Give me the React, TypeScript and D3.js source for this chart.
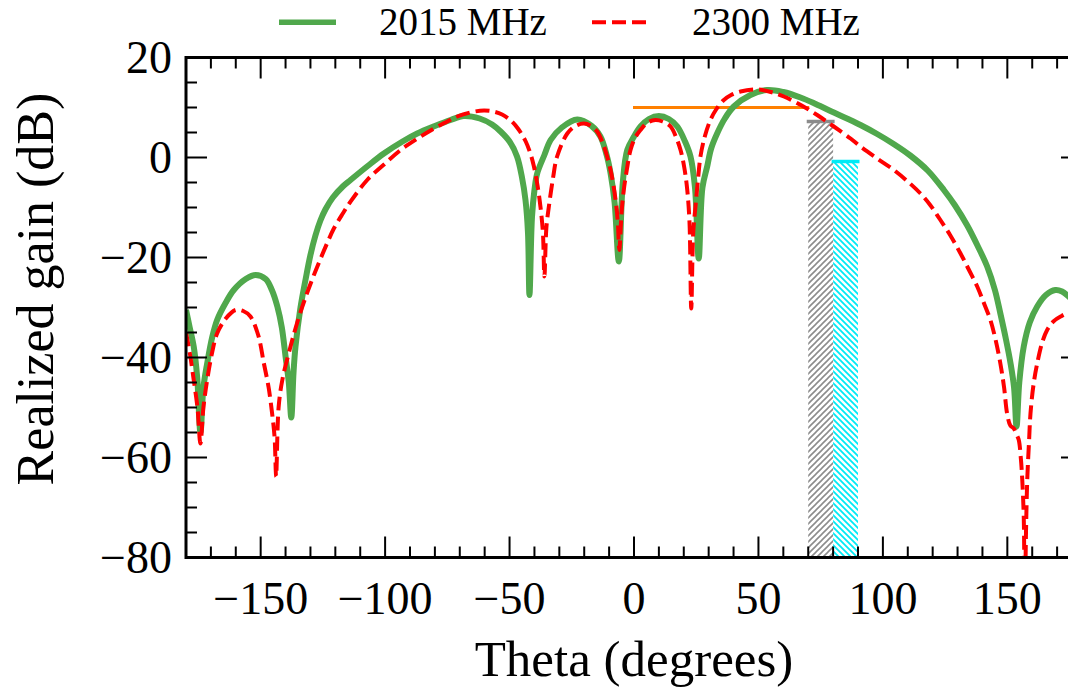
import React from "react";
import * as d3 from "d3";

const greenTheta = [-180,-178.5,-176.9,-175.5,-174.2,-173,-171.5,-169.5,-167.5,-164,-160.8,-156,-152,-148,-145.5,-143.3,-141.5,-140,-138.7,-137.7,-136.8,-136,-134,-132,-130,-128,-126,-124,-121,-117,-113.9,-107,-100.5,-93,-87.1,-80,-73.7,-68.4,-62,-57,-53.6,-50,-47,-45,-43.6,-42.6,-42,-41,-40,-38.9,-36,-33.5,-29,-22.8,-17,-13.5,-11,-9.4,-7.8,-6.1,-4.5,-2.7,0,2.6,6,10,14,17.4,20.5,22.7,24.5,26,27.5,29.4,31,33.4,36.5,40.1,46.8,53.5,60,66.9,73,80.3,86,91,97.7,104,111,118,124.5,129,133.9,138,141.9,145,147.2,149.5,151.3,152.7,153.7,154.8,156.6,159,162,165.5,169.3,172,174.6,177.5,180];
const greenGain = [-30.5,-34,-37.8,-44,-55,-46,-41.2,-36,-32.5,-29,-26.5,-24.3,-23.5,-24.3,-26.5,-29.8,-34,-39.8,-45,-52,-43,-37.8,-30,-24.5,-19.5,-15.6,-12.6,-10.4,-8,-5.8,-4.5,-1.7,0.8,3.2,4.8,6.3,7.5,8.3,7.8,6.6,5.2,3.2,0.2,-4,-8.5,-15,-27.5,-12,-6.5,-3.2,0.5,3.5,6,7.6,6.3,4.2,0.5,-3.2,-9,-20.8,-5,1.5,4.2,6.2,7.7,8.3,7.7,6.2,3.2,0.2,-6,-20.2,-6,-1.8,1.8,4.8,7.8,10.2,12.5,13.5,13.1,12,10.7,9,7.7,6.5,4.7,2.8,0.4,-2.6,-6.5,-9.6,-13.6,-17.6,-21.8,-26.5,-31.2,-36.5,-41.2,-46,-53.8,-45,-37.8,-33,-29.8,-27.5,-26.5,-26.8,-27.8,-29,-30.5];

const redTheta = [-180,-178.5,-176.9,-175.4,-174.2,-173,-171.5,-169.5,-167.5,-164,-160.1,-157,-154.1,-151,-148.7,-146.8,-145.4,-144.4,-143.8,-142.8,-141.3,-138,-135,-132,-129,-126,-123,-120.6,-117,-114,-107.2,-100,-93.8,-87,-80.4,-75,-71,-65,-60.3,-56.5,-53,-49.5,-46.5,-43.5,-41.5,-40.3,-38.8,-37.6,-36.6,-36,-35.2,-34.2,-32.5,-30.9,-26.8,-23.5,-20.2,-17.5,-14.8,-12.5,-10.8,-9,-7.4,-6.5,-5.9,-5,-4.1,-2.8,-1.4,0.5,2.6,5.5,8.6,11.5,14.7,16.8,18.7,20.2,21.4,22.3,23,23.8,24.7,25.7,26.7,28.5,30.7,33,36.1,39,42.8,49.5,55,60.2,67,73.6,80,87,91,97.7,104.4,110,115.1,119,123.1,127,131.2,134.5,137.9,140.5,143.2,145.3,147.2,148.7,149.9,151.2,152.6,153.8,154.6,155.4,156,156.6,157,157.5,158,158.7,159.3,160.5,162,164,166,168.5,171.4,174.6,177.5,180];
const redGain = [-35,-39,-44.5,-50,-57.2,-50,-44.5,-39,-35.2,-32.2,-30.5,-30.7,-31.8,-35.5,-41.2,-46,-51.2,-56,-63.8,-50,-44.5,-37.8,-32.5,-28,-24,-20.3,-16.8,-14.2,-11.2,-8.9,-4.5,-1.2,1.5,3.8,5.8,7.2,8.2,9.1,9.4,9.2,8.6,7.4,5.7,3.2,0.6,-1.6,-5.5,-9.8,-15,-23.8,-14,-9.8,-4,0.2,4.8,6.3,6.8,6.4,5.2,2.8,0.2,-3.5,-8.5,-13,-18.5,-11,-6.5,-2.2,1.5,4,5.5,7,7.5,7.2,6.2,4.2,1.5,-2,-6.5,-13,-30.2,-15,-9.8,-4.5,0.2,4.3,7.5,9.6,11.5,12.5,13.2,13.6,13.1,12.2,10.5,8.5,6.3,3.8,2.2,-0.2,-2.5,-4.8,-7.2,-9.5,-12.5,-15.5,-19.2,-22.4,-25.8,-29,-32.5,-36.5,-41.2,-46,-51.2,-53.6,-54.2,-55.5,-56.5,-60,-64.5,-72,-90,-75,-64.5,-57,-51.2,-45.5,-41.2,-37,-34.5,-32.8,-31.8,-31.2,-32.5,-35];

const seriesLabels = ["2015 MHz", "2300 MHz"];
const barStart = [70, 80];
const barEnd = [80, 90];
const barTop = [7.2, -0.8];
const refLineStart = 0;
const refLineEnd = 70;
const refLineGain = 10;

const xMajor = [-150, -100, -50, 0, 50, 100, 150];
const yMajor = [20, 0, -20, -40, -60, -80];

const FONT = "'Liberation Serif', 'Times New Roman', 'DejaVu Serif', serif";

const fmt = (v: number) => (v < 0 ? "\u2212" + Math.abs(v) : String(v));

export default function App() {
  const W = 1068, H = 689;
  const x = d3.scaleLinear().domain([-180, 180]).range([186, 1082]);
  const y = d3.scaleLinear().domain([-80, 20]).range([557.5, 57.5]);
  const [x0, x1] = x.range();
  const [yb, yt] = y.range();

  const line = d3.line<[number, number]>()
    .x((d) => x(d[0]))
    .y((d) => y(d[1]))
    .curve(d3.curveCatmullRom.alpha(0.5));

  const greenPath = line(greenTheta.map((t, i) => [t, greenGain[i]] as [number, number])) || "";
  const redPath = line(redTheta.map((t, i) => [t, redGain[i]] as [number, number])) || "";

  const xMinor = d3.range(-170, 180, 10).filter((v) => v % 50 !== 0);
  const yMinor = d3.range(-75, 20, 5).filter((v) => v % 20 !== 0);
  const MAJ = 21, MIN = 11;

  const green = "#50a84c";
  const red = "#ff0000";
  const barColors = ["#8c8c8c", "#00eaf5"];
  const barPatterns = ["hatchFwd", "hatchBack"];
  const dash = "14 6";

  return (
    <svg width={W} height={H} style={{ position: "absolute", left: 0, top: 0, background: "#fff" }}>
      <defs>
        <clipPath id="plotClip">
          <rect x={x0} y={yt} width={x1 - x0} height={yb - yt} />
        </clipPath>
        <pattern id="hatchFwd" patternUnits="userSpaceOnUse" width={6} height={6}>
          <path d="M-1,1 l2,-2 M0,6 l6,-6 M5,7 l2,-2" stroke={barColors[0]} strokeWidth={1.6} />
        </pattern>
        <pattern id="hatchBack" patternUnits="userSpaceOnUse" width={6} height={6}>
          <path d="M-1,5 l2,2 M0,0 l6,6 M5,-1 l2,2" stroke={barColors[1]} strokeWidth={1.8} />
        </pattern>
      </defs>

      <g clipPath="url(#plotClip)">
        {barStart.map((s, i) => (
          <rect key={"bar" + i} x={x(s)} y={y(barTop[i])} width={x(barEnd[i]) - x(s)} height={yb - y(barTop[i])} fill={`url(#${barPatterns[i]})`} />
        ))}
      </g>
      {barStart.map((s, i) => (
        <line key={"bt" + i} x1={x(s) - 1.5} x2={x(barEnd[i]) + 1.5} y1={y(barTop[i])} y2={y(barTop[i])} stroke={barColors[i]} strokeWidth={3.5} />
      ))}
      <line x1={x(refLineStart) - 1} x2={x(refLineEnd) + 1} y1={y(refLineGain)} y2={y(refLineGain)} stroke="#ff8000" strokeWidth={3} />

      <g clipPath="url(#plotClip)">
        <path d={greenPath} fill="none" stroke={green} strokeWidth={6} strokeLinejoin="miter" strokeMiterlimit={4} />
        <path d={redPath} fill="none" stroke={red} strokeWidth={4} strokeDasharray={dash} />
      </g>

      <g stroke="#000" strokeWidth={2}>
        {xMajor.map((v) => (
          <g key={"xM" + v}>
            <line x1={x(v)} x2={x(v)} y1={yb} y2={yb - MAJ} />
            <line x1={x(v)} x2={x(v)} y1={yt} y2={yt + MAJ} />
          </g>
        ))}
        {xMinor.map((v) => (
          <g key={"xm" + v}>
            <line x1={x(v)} x2={x(v)} y1={yb} y2={yb - MIN} />
            <line x1={x(v)} x2={x(v)} y1={yt} y2={yt + MIN} />
          </g>
        ))}
        {yMajor.map((v) => (
          <g key={"yM" + v}>
            <line x1={x0} x2={x0 + MAJ} y1={y(v)} y2={y(v)} />
            <line x1={x1} x2={x1 - MAJ} y1={y(v)} y2={y(v)} />
          </g>
        ))}
        {yMinor.map((v) => (
          <g key={"ym" + v}>
            <line x1={x0} x2={x0 + MIN} y1={y(v)} y2={y(v)} />
            <line x1={x1} x2={x1 - MIN} y1={y(v)} y2={y(v)} />
          </g>
        ))}
      </g>
      <rect x={x0} y={yt} width={x1 - x0} height={yb - yt} fill="none" stroke="#000" strokeWidth={3} />

      <g fontFamily={FONT} fontSize={46} fill="#000">
        {xMajor.map((v) => (
          <text key={"xl" + v} x={x(v)} y={613.5} textAnchor="middle">{fmt(v)}</text>
        ))}
        {yMajor.map((v) => (
          <text key={"yl" + v} x={172} y={y(v) + 15.5} textAnchor="end">{fmt(v)}</text>
        ))}
      </g>

      <text x={634} y={676} textAnchor="middle" fontFamily={FONT} fontSize={51}>Theta (degrees)</text>
      <text transform="translate(53,289) rotate(-90)" textAnchor="middle" fontFamily={FONT} fontSize={52}>Realized gain (dB)</text>

      <line x1={279} x2={336} y1={22.3} y2={22.3} stroke={green} strokeWidth={5.5} />
      <text x={379} y={35} fontFamily={FONT} fontSize={39}>{seriesLabels[0]}</text>
      <line x1={592} x2={649} y1={22.3} y2={22.3} stroke={red} strokeWidth={4} strokeDasharray={dash} />
      <text x={692} y={35} fontFamily={FONT} fontSize={39}>{seriesLabels[1]}</text>
    </svg>
  );
}
